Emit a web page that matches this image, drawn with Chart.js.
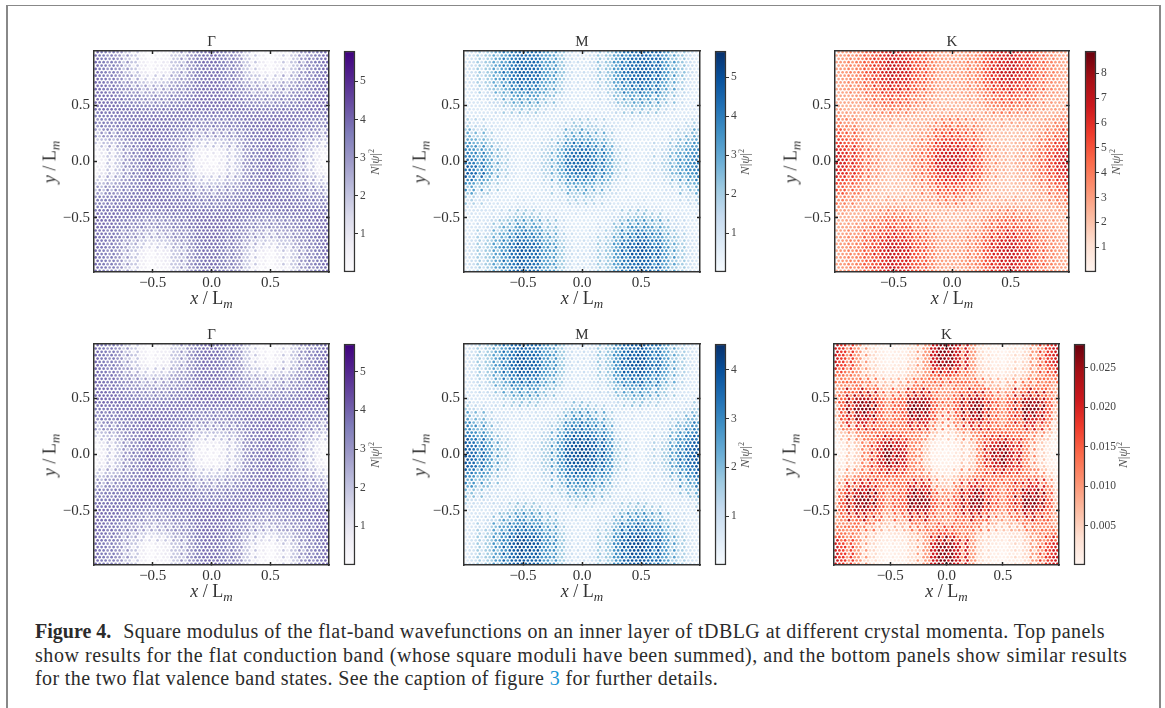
<!DOCTYPE html>
<html>
<head>
<meta charset="utf-8">
<script src="https://cdn.jsdelivr.net/npm/chart.js@4"></script>
<style>
  html, body { margin: 0; padding: 0; background: #fff; }
  body { width: 1165px; height: 708px; position: relative; overflow: hidden; font-family: "Liberation Serif", serif; color: #333; }
  canvas { position: absolute; filter: blur(0.4px); }
  .frame { position: absolute; background: #888; }
  .axis-title { position: absolute; font-size: 18px; white-space: nowrap; transform: translate(-50%, -50%); }
  .axis-title sub { font-size: 13px; vertical-align: -4px; line-height: 0; }
  .axis-title.vertical { transform: translate(-50%, -50%) rotate(-90deg); }
  .bar-title { position: absolute; font-size: 13px; color: #555; white-space: nowrap; transform: translate(-50%, -50%) rotate(-90deg); }
  .bar-title sup { font-size: 8px; line-height: 0; }
  .caption { position: absolute; left: 35px; font-size: 20px; line-height: 22px; white-space: nowrap; color: #2b2b2b; letter-spacing: 0.55px; }
  .caption b { margin-right: 12px; letter-spacing: 0; }
  .caption span { color: #1b96d4; }
</style>
</head>
<body>
<div class="frame" style="left:6px;top:5px;width:1155px;height:1px"></div>
<div class="frame" style="left:6px;top:5px;width:2px;height:703px"></div>
<div class="frame" style="left:1159px;top:5px;width:2px;height:703px"></div>

<div class="caption" style="top:620px;letter-spacing:0.43px"><b>Figure 4.</b>Square modulus of the flat-band wavefunctions on an inner layer of tDBLG at different crystal momenta. Top panels</div>
<div class="caption" style="top:644px">show results for the flat conduction band (whose square moduli have been summed), and the bottom panels show similar results</div>
<div class="caption" style="top:667px;letter-spacing:0.38px">for the two flat valence band states. See the caption of figure <span>3</span> for further details.</div>

<script>
// lattice sites, in units of L_m (same sites in all panels)
const siteRows = [-0.975,-0.945,-0.915,-0.885,-0.855,-0.825,-0.795,-0.765,-0.735,-0.705,-0.675,-0.645,-0.615,-0.585,-0.555,-0.525,-0.495,-0.465,-0.435,-0.405,-0.375,-0.345,-0.315,-0.285,-0.255,-0.225,-0.195,-0.165,-0.135,-0.105,-0.075,-0.045,-0.015,0.015,0.045,0.075,0.105,0.135,0.165,0.195,0.225,0.255,0.285,0.315,0.345,0.375,0.405,0.435,0.465,0.495,0.525,0.555,0.585,0.615,0.645,0.675,0.705,0.735,0.765,0.795,0.825,0.855,0.885,0.915,0.945,0.975];
const siteColsEven = [-0.986,-0.952,-0.918,-0.884,-0.850,-0.816,-0.782,-0.748,-0.714,-0.680,-0.646,-0.612,-0.578,-0.544,-0.510,-0.476,-0.442,-0.408,-0.374,-0.340,-0.306,-0.272,-0.238,-0.204,-0.170,-0.136,-0.102,-0.068,-0.034,0,0.034,0.068,0.102,0.136,0.170,0.204,0.238,0.272,0.306,0.340,0.374,0.408,0.442,0.476,0.510,0.544,0.578,0.612,0.646,0.680,0.714,0.748,0.782,0.816,0.850,0.884,0.918,0.952,0.986];
const siteColsOdd = [-0.969,-0.935,-0.901,-0.867,-0.833,-0.799,-0.765,-0.731,-0.697,-0.663,-0.629,-0.595,-0.561,-0.527,-0.493,-0.459,-0.425,-0.391,-0.357,-0.323,-0.289,-0.255,-0.221,-0.187,-0.153,-0.119,-0.085,-0.051,-0.017,0.017,0.051,0.085,0.119,0.153,0.187,0.221,0.255,0.289,0.323,0.357,0.391,0.425,0.459,0.493,0.527,0.561,0.595,0.629,0.663,0.697,0.731,0.765,0.799,0.833,0.867,0.901,0.935,0.969];

// N|psi|^2. Rows y = 0.9 ... -0.9, columns x = -1 ... 1, both in steps of 0.1
const gammaValues = [
  [3.9,3.6,3,1.9,.7,.2,.7,1.9,3,3.6,3.9,3.6,3,1.9,.7,.2,.7,1.9,3,3.6,3.9],
  [3.9,3.6,3,2,.9,.4,.9,2,3,3.6,3.9,3.6,3,2,.9,.4,.9,2,3,3.6,3.9],
  [3.9,3.7,3.2,2.6,1.9,1.5,1.9,2.6,3.2,3.7,3.9,3.7,3.2,2.6,1.9,1.5,1.9,2.6,3.2,3.7,3.9],
  [3.9,3.8,3.5,3.2,2.8,2.6,2.8,3.2,3.5,3.8,3.9,3.8,3.5,3.2,2.8,2.6,2.8,3.2,3.5,3.8,3.9],
  [3.9,3.9,3.8,3.6,3.4,3.3,3.4,3.6,3.8,3.9,3.9,3.9,3.8,3.6,3.4,3.3,3.4,3.6,3.8,3.9,3.9],
  [3.6,3.6,3.7,3.8,3.8,3.7,3.8,3.8,3.7,3.6,3.6,3.6,3.7,3.8,3.8,3.7,3.8,3.8,3.7,3.6,3.6],
  [3,3.1,3.4,3.6,3.8,3.9,3.8,3.6,3.4,3.1,3,3.1,3.4,3.6,3.8,3.9,3.8,3.6,3.4,3.1,3],
  [1.9,2.1,2.7,3.3,3.7,3.9,3.7,3.3,2.7,2.1,1.9,2.1,2.7,3.3,3.7,3.9,3.7,3.3,2.7,2.1,1.9],
  [.7,1.1,2,3,3.6,3.9,3.6,3,2,1.1,.7,1.1,2,3,3.6,3.9,3.6,3,2,1.1,.7],
  [.2,.7,1.9,3,3.6,3.9,3.6,3,1.9,.7,.2,.7,1.9,3,3.6,3.9,3.6,3,1.9,.7,.2],
  [.7,1.1,2,3,3.6,3.9,3.6,3,2,1.1,.7,1.1,2,3,3.6,3.9,3.6,3,2,1.1,.7],
  [1.9,2.1,2.7,3.3,3.7,3.9,3.7,3.3,2.7,2.1,1.9,2.1,2.7,3.3,3.7,3.9,3.7,3.3,2.7,2.1,1.9],
  [3,3.1,3.4,3.6,3.8,3.9,3.8,3.6,3.4,3.1,3,3.1,3.4,3.6,3.8,3.9,3.8,3.6,3.4,3.1,3],
  [3.6,3.6,3.7,3.8,3.8,3.7,3.8,3.8,3.7,3.6,3.6,3.6,3.7,3.8,3.8,3.7,3.8,3.8,3.7,3.6,3.6],
  [3.9,3.9,3.8,3.6,3.4,3.3,3.4,3.6,3.8,3.9,3.9,3.9,3.8,3.6,3.4,3.3,3.4,3.6,3.8,3.9,3.9],
  [3.9,3.8,3.5,3.2,2.8,2.6,2.8,3.2,3.5,3.8,3.9,3.8,3.5,3.2,2.8,2.6,2.8,3.2,3.5,3.8,3.9],
  [3.9,3.7,3.2,2.6,1.9,1.5,1.9,2.6,3.2,3.7,3.9,3.7,3.2,2.6,1.9,1.5,1.9,2.6,3.2,3.7,3.9],
  [3.9,3.6,3,2,.9,.4,.9,2,3,3.6,3.9,3.6,3,2,.9,.4,.9,2,3,3.6,3.9],
  [3.9,3.6,3,1.9,.7,.2,.7,1.9,3,3.6,3.9,3.6,3,1.9,.7,.2,.7,1.9,3,3.6,3.9]
];
const mTopValues = [
  [.8,1.2,2,3,4,4.4,4.2,3.2,2.2,1.3,.8,1.3,2.2,3.2,4.1,4.5,4.4,3.3,2.2,1.3,.8],
  [.8,1.2,2.1,3.2,4.3,4.8,4.5,3.4,2.3,1.3,.8,1.3,2.3,3.4,4.4,4.8,4.6,3.5,2.3,1.3,.8],
  [.8,1.1,1.9,2.9,3.9,4.4,4.1,3.1,2,1.2,.8,1.2,2,3.1,4,4.4,4.2,3.1,2,1.1,.8],
  [.7,.9,1.4,2.2,3,3.4,3.2,2.4,1.5,1,.7,1,1.5,2.4,3.1,3.5,3.3,2.4,1.5,.9,.7],
  [.7,.8,.9,1.4,2,2.3,2.1,1.5,1,.8,.7,.8,1,1.5,2.1,2.4,2.2,1.5,1,.8,.7],
  [1,.9,.8,.9,1.1,1.3,1.2,.9,.9,1,1.2,1,.9,.9,1.2,1.3,1.2,.9,.8,.9,1.1],
  [1.9,1.6,1.1,.8,.7,.8,.7,.9,1.3,1.8,2.1,1.8,1.3,.9,.7,.8,.7,.8,1.1,1.6,2],
  [3,2.7,1.9,1.1,.8,.7,.8,1.2,2,2.9,3.2,2.9,2,1.2,.8,.7,.8,1.1,1.8,2.6,3],
  [3.8,3.5,2.6,1.6,.9,.7,.9,1.6,2.8,3.8,4.3,3.8,2.8,1.6,.9,.7,.9,1.5,2.4,3.3,3.7],
  [4.2,4,3,1.9,1,.7,1,1.9,3,4.2,4.8,4.2,3,1.9,1,.7,1,1.8,2.8,3.7,4],
  [4.8,4.4,3,1.8,1,.7,1,1.7,2.9,3.9,4.4,3.9,2.8,1.7,1,.7,1,1.6,2.6,3.5,3.9],
  [3.7,3.2,2.1,1.2,.8,.7,.8,1.2,2,2.9,3.2,2.9,2,1.2,.8,.7,.8,1.1,1.8,2.5,2.9],
  [2.2,1.8,1.1,.8,.7,.8,.7,.9,1.3,1.8,2,1.8,1.2,.9,.7,.8,.7,.8,1,1.5,1.8],
  [1.1,1,.8,.8,1,1.2,1,.9,.9,1,1.1,1,.9,.8,1,1.2,1,.8,.8,.9,1],
  [.7,.8,1,1.4,1.9,2.3,2,1.4,1,.8,.7,.8,1,1.4,2,2.4,2.1,1.4,1,.8,.7],
  [.7,.9,1.4,2.2,3,3.5,3.1,2.3,1.4,.9,.7,.9,1.4,2.3,3.1,3.6,3.2,2.3,1.4,.9,.7],
  [.8,1.1,1.9,2.9,3.9,4.4,4,3,1.9,1.2,.8,1.2,1.9,3,4,4.5,4.1,3,1.9,1.1,.8],
  [.8,1.2,2.1,3.3,4.4,4.9,4.5,3.4,2.2,1.3,.8,1.3,2.2,3.4,4.5,5,4.6,3.4,2.1,1.2,.8],
  [.8,1.2,2,3.1,4.1,4.6,4.2,3.2,2.1,1.3,.8,1.3,2.1,3.2,4.2,4.6,4.3,3.1,2,1.2,.8]
];
const kTopValues = [
  [2.8,3,3.8,4.9,6,6.6,6.1,5,3.9,3.1,2.8,3.1,3.9,5,6.1,6.6,6.1,4.9,3.8,3,2.8],
  [2.8,3.1,3.9,5.1,6.4,7,6.5,5.2,4,3.1,2.8,3.1,4,5.2,6.5,7,6.4,5.1,3.9,3.1,2.8],
  [2.7,3,3.7,4.8,5.9,6.5,6,4.9,3.8,3,2.7,3,3.8,4.9,6,6.5,5.9,4.8,3.7,3,2.7],
  [2.6,2.8,3.2,4,4.9,5.3,4.9,4,3.2,2.7,2.5,2.7,3.2,4,4.9,5.3,4.9,4,3.2,2.8,2.6],
  [2.7,2.5,2.6,3.2,3.9,4.2,3.9,3.2,2.6,2.3,2.1,2.3,2.6,3.2,3.9,4.2,3.9,3.2,2.6,2.5,2.7],
  [3.4,3,2.5,2.5,2.8,3,2.8,2.5,2.4,2.6,2.9,2.6,2.4,2.5,2.8,3,2.8,2.5,2.5,3,3.4],
  [4.3,3.9,3.1,2.5,2.1,2.1,2.1,2.5,3.1,3.9,4.4,3.9,3.1,2.5,2.1,2.1,2.1,2.5,3.1,3.9,4.3],
  [5.4,5,4,2.9,2.2,1.9,2.2,2.9,4.1,5.1,5.6,5.1,4.1,2.9,2.2,1.9,2.2,2.9,4,5,5.4],
  [6.3,5.9,4.7,3.3,2.4,2,2.4,3.4,4.8,6,6.5,6,4.8,3.4,2.4,2,2.4,3.3,4.7,5.9,6.3],
  [6.8,6.3,5,3.6,2.6,2.1,2.6,3.6,5.1,6.4,7,6.4,5.1,3.6,2.6,2.1,2.6,3.6,5,6.3,6.8],
  [6.3,5.9,4.7,3.3,2.4,2,2.4,3.4,4.8,6,6.5,6,4.8,3.4,2.4,2,2.4,3.3,4.7,5.9,6.3],
  [5.4,5,4,2.9,2.2,1.9,2.2,2.9,4.1,5.1,5.6,5.1,4.1,2.9,2.2,1.9,2.2,2.9,4,5,5.4],
  [4.3,3.9,3.1,2.5,2.1,2.1,2.1,2.5,3.1,3.9,4.4,3.9,3.1,2.5,2.1,2.1,2.1,2.5,3.1,3.9,4.3],
  [3.4,3,2.5,2.5,2.8,3,2.8,2.5,2.4,2.6,2.9,2.6,2.4,2.5,2.8,3,2.8,2.5,2.5,3,3.4],
  [2.7,2.5,2.6,3.2,3.9,4.2,3.9,3.2,2.6,2.3,2.1,2.3,2.6,3.2,3.9,4.2,3.9,3.2,2.6,2.5,2.7],
  [2.6,2.8,3.2,4,4.9,5.3,4.9,4,3.2,2.7,2.5,2.7,3.2,4,4.9,5.3,4.9,4,3.2,2.8,2.6],
  [2.7,3,3.7,4.8,5.9,6.5,6,4.9,3.8,3,2.7,3,3.8,4.9,6,6.5,5.9,4.8,3.7,3,2.7],
  [2.8,3.1,3.9,5.1,6.4,7,6.5,5.2,4,3.1,2.8,3.1,4,5.2,6.5,7,6.4,5.1,3.9,3.1,2.8],
  [2.8,3,3.8,4.9,6,6.6,6.1,5,3.9,3.1,2.8,3.1,3.9,5,6.1,6.6,6.1,4.9,3.8,3,2.8]
];
const mBottomValues = [
  [.6,.9,1.6,2.5,3.4,3.7,3.4,2.6,1.7,1,.6,1,1.8,2.7,3.5,3.8,3.3,2.4,1.5,.9,.6],
  [.6,.9,1.7,2.7,3.6,4,3.7,2.8,1.8,1,.6,1,1.8,2.9,3.8,4,3.5,2.6,1.6,.9,.6],
  [.6,.8,1.5,2.4,3.2,3.6,3.3,2.5,1.6,.9,.6,.9,1.6,2.6,3.4,3.6,3.1,2.3,1.4,.8,.6],
  [.6,.7,1.1,1.8,2.5,2.8,2.6,1.9,1.2,.8,.6,.8,1.2,2,2.6,2.8,2.4,1.7,1.1,.7,.6],
  [.9,.7,.7,1.1,1.6,1.9,1.7,1.2,.8,.8,1,.8,.8,1.2,1.7,1.9,1.5,1.1,.7,.7,.9],
  [1.6,1.2,.8,.7,.9,1,.9,.8,1,1.5,1.9,1.5,1,.8,.9,1,.8,.7,.8,1.2,1.6],
  [2.5,2.1,1.4,.8,.6,.6,.6,.9,1.6,2.4,2.8,2.4,1.6,.9,.6,.6,.6,.8,1.4,2.1,2.5],
  [3.2,2.9,2,1.1,.7,.5,.7,1.2,2.3,3.1,3.5,3.1,2.3,1.2,.7,.5,.7,1.1,2,2.9,3.2],
  [3.8,3.4,2.5,1.4,.8,.5,.8,1.5,2.7,3.6,4,3.6,2.7,1.5,.8,.5,.8,1.4,2.5,3.4,3.8],
  [3.9,3.6,2.7,1.6,.9,.5,.9,1.6,2.9,3.8,4.2,3.8,2.9,1.6,.9,.5,.9,1.6,2.7,3.6,3.9],
  [3.8,3.4,2.5,1.4,.8,.5,.8,1.5,2.7,3.5,3.9,3.5,2.7,1.5,.8,.5,.8,1.4,2.5,3.4,3.8],
  [3.1,2.8,1.9,1.1,.7,.5,.7,1.2,2.2,3,3.3,3,2.2,1.2,.7,.5,.7,1.1,1.9,2.8,3.1],
  [2.3,1.9,1.2,.8,.6,.6,.6,.9,1.5,2.1,2.5,2.1,1.5,.9,.6,.6,.6,.8,1.2,1.9,2.3],
  [1.4,1,.8,.7,.9,1,.9,.8,.9,1.3,1.6,1.3,.9,.8,.9,1,.8,.7,.8,1,1.4],
  [.8,.7,.7,1.1,1.6,1.9,1.7,1.2,.8,.7,.9,.7,.8,1.2,1.7,1.9,1.6,1,.7,.7,.8],
  [.6,.7,1.1,1.9,2.6,2.9,2.6,2,1.2,.8,.6,.8,1.2,2,2.7,2.9,2.6,1.8,1.1,.7,.6],
  [.6,.8,1.5,2.5,3.3,3.7,3.4,2.6,1.6,.9,.6,.9,1.6,2.7,3.5,3.7,3.3,2.4,1.4,.8,.6],
  [.6,.9,1.7,2.8,3.8,4.2,3.9,2.9,1.8,1,.6,1,1.8,3,4,4.2,3.8,2.7,1.6,.9,.6],
  [.6,.9,1.6,2.6,3.6,3.9,3.6,2.7,1.7,1,.6,1,1.7,2.8,3.7,3.9,3.5,2.5,1.5,.9,.6]
];
// this one in units of 0.001
const kBottomValues = [
  [21,18,10,4,1.5,.5,1.5,4,10,21,27,21,10,4,1.5,.5,1.5,4,10,18,21],
  [20,17,10,4.5,2,1,2,4.5,10,21,26,21,10,4.5,2,1,2,4.5,10,17,20],
  [14,13,10,6,3.5,2.5,3.5,6,10,14,17,14,10,6,3.5,2.5,3.5,6,10,13,14],
  [9,11,14,13,8,6,8,13,14,11,9,11,14,13,8,6,8,13,14,11,9],
  [9,15,23,23,15,10,15,23,23,15,10,15,23,23,15,10,15,23,23,15,9],
  [7,16,26,27,16,11,16,27,26,16,10,16,26,27,16,11,16,27,26,16,7],
  [5,12,20,21,14,10,14,21,20,12,6,12,20,21,14,10,14,21,20,12,5],
  [3,6,11,13,14,15,14,13,11,6,3,6,11,13,14,15,14,13,11,6,3],
  [1,2.5,6,12,19,23,19,12,6,2.5,1,2.5,6,12,19,23,19,12,6,2.5,1],
  [.5,1.5,5,12,22,27,22,12,5,1.5,.5,1.5,5,12,22,27,22,12,5,1.5,.5],
  [1,2.5,6,12,19,23,19,12,6,2.5,1,2.5,6,12,19,23,19,12,6,2.5,1],
  [3,6,11,13,14,15,14,13,11,6,3,6,11,13,14,15,14,13,11,6,3],
  [5,12,20,21,14,10,14,21,20,12,6,12,20,21,14,10,14,21,20,12,5],
  [7,16,26,27,16,11,16,27,26,16,10,16,26,27,16,11,16,27,26,16,7],
  [9,15,23,23,15,10,15,23,23,15,10,15,23,23,15,10,15,23,23,15,9],
  [9,11,14,13,8,6,8,13,14,11,9,11,14,13,8,6,8,13,14,11,9],
  [14,13,10,6,3.5,2.5,3.5,6,10,14,17,14,10,6,3.5,2.5,3.5,6,10,13,14],
  [20,17,10,4.5,2,1,2,4.5,10,21,26,21,10,4.5,2,1,2,4.5,10,17,20],
  [21,18,10,4,1.5,.5,1.5,4,10,21,27,21,10,4,1.5,.5,1.5,4,10,18,21]
];

const axisTicks = [-0.5, 0, 0.5];
const barTicksGamma = [1, 2, 3, 4, 5];
const barTicksMTop = [1, 2, 3, 4, 5];
const barTicksKTop = [1, 2, 3, 4, 5, 6, 7, 8];
const barTicksMBottom = [1, 2, 3, 4];
const barTicksKBottom = [0.005, 0.010, 0.015, 0.020, 0.025];

// matplotlib Purples / Blues / Reds
const purples = ["#fcfbfd","#efedf5","#dadaeb","#bcbddc","#9e9ac8","#807dba","#6a51a3","#54278f","#3f007d"];
const blues = ["#f7fbff","#deebf7","#c6dbef","#9ecae1","#6baed6","#4292c6","#2171b5","#08519c","#08306b"];
const reds = ["#fff5f0","#fee0d2","#fcbba1","#fc9272","#fb6a4a","#ef3b2c","#cb181d","#a50f15","#67000d"];

// sites near a cell edge pick one of the two neighbouring cells in this order, so edges don't look square
const ditherX = [-0.04, 0.02, -0.02, 0.04];
const ditherY = [0.03, -0.04, 0.04, -0.03];

const panels = [
  { title: "Γ", left: 94, top: 51, w: 235, h: 221, barLeft: 344, barW: 11, values: gammaValues, scale: 1, cmap: purples, min: 0, max: 5.8, barTicks: barTicksGamma, digits: 0, labelX: 375 },
  { title: "M", left: 464, top: 51, w: 236, h: 221, barLeft: 715, barW: 11, values: mTopValues, scale: 1, cmap: blues, min: 0, max: 5.68, barTicks: barTicksMTop, digits: 0, labelX: 745 },
  { title: "K", left: 835, top: 51, w: 234, h: 221, barLeft: 1085, barW: 11, values: kTopValues, scale: 1, cmap: reds, min: 0, max: 8.9, barTicks: barTicksKTop, digits: 0, labelX: 1116 },
  { title: "Γ", left: 94, top: 344, w: 235, h: 221, barLeft: 344, barW: 11, values: gammaValues, scale: 1, cmap: purples, min: 0, max: 5.72, barTicks: barTicksGamma, digits: 0, labelX: 375 },
  { title: "M", left: 464, top: 344, w: 236, h: 221, barLeft: 715, barW: 11, values: mBottomValues, scale: 1, cmap: blues, min: 0, max: 4.53, barTicks: barTicksMBottom, digits: 0, labelX: 745 },
  { title: "K", left: 834, top: 344, w: 225, h: 221, barLeft: 1074, barW: 11, values: kBottomValues, scale: 0.001, cmap: reds, min: 0, max: 0.028, barTicks: barTicksKBottom, digits: 3, labelX: 1123 }
];

const serif = "'Liberation Serif', serif";
const axisColor = "#333";
const Y_AXIS_W = 60, X_AXIS_H = 30, TITLE_H = 20, EDGE = 2;

function hexToRgb(hex) {
  return [1, 3, 5].map(i => parseInt(hex.slice(i, i + 2), 16));
}

function colorFor(cmap, t) {
  const pos = Math.min(Math.max(t, 0), 1) * (cmap.length - 1);
  const i = Math.min(Math.floor(pos), cmap.length - 2);
  const a = hexToRgb(cmap[i]), b = hexToRgb(cmap[i + 1]);
  const f = pos - i;
  return `rgb(${a.map((c, k) => Math.round(c + (b[k] - c) * f)).join(",")})`;
}

// value of the table cell a site falls in
function cellValue(table, x, y) {
  const row = Math.min(Math.max(Math.round((0.9 - y) / 0.1), 0), table.length - 1);
  const col = Math.min(Math.max(Math.round((x + 1) / 0.1), 0), table[0].length - 1);
  return table[row][col];
}

function addCanvas(left, top, width, height) {
  const canvas = document.createElement("canvas");
  canvas.width = width;
  canvas.height = height;
  canvas.style.cssText = `left:${left}px;top:${top}px;width:${width}px;height:${height}px`;
  document.body.appendChild(canvas);
  return canvas;
}

function addText(cls, html, x, y) {
  const el = document.createElement("div");
  el.className = cls;
  el.innerHTML = html;
  el.style.left = x + "px";
  el.style.top = y + "px";
  document.body.appendChild(el);
}

// fixed box for an axis, so the plot area lands where it should
function fitAxis(s, size) {
  if (s.isHorizontal()) s.height = size; else s.width = size;
  s.paddingLeft = s.paddingRight = s.paddingTop = s.paddingBottom = 0;
}

function frameAxis(position, extra) {
  const horizontal = position === "top" || position === "bottom";
  return Object.assign({
    type: "linear",
    position,
    min: horizontal ? -1 : -0.985,
    max: horizontal ? 1 : 0.985,
    afterBuildTicks: s => { s.ticks = axisTicks.map(value => ({ value })); },
    border: { color: axisColor, width: 1.5, z: 1 },
    grid: { drawOnChartArea: false, tickLength: -3, tickColor: "#222", tickWidth: 1.5, z: 1 },
    ticks: { display: false }
  }, extra);
}

function drawPanel(p) {
  const pointsData = [], pointColors = [];
  siteRows.forEach((y, r) => {
    (r % 2 ? siteColsOdd : siteColsEven).forEach((x, c) => {
      pointsData.push({ x, y });
      const v = cellValue(p.values, x + ditherX[(c + 2 * r) % 4], y + ditherY[(r + 3 * c) % 4]) * p.scale;
      pointColors.push(colorFor(p.cmap, (v - p.min) / (p.max - p.min)));
    });
  });

  const tickFont = { family: serif, size: 15 };
  const fmt = v => v.toFixed(1).replace("-", "\u2212");
  new Chart(addCanvas(p.left - Y_AXIS_W, p.top - TITLE_H, Y_AXIS_W + p.w + EDGE + 2, TITLE_H + p.h + X_AXIS_H), {
    type: "scatter",
    data: { datasets: [{ data: pointsData, pointBackgroundColor: pointColors, pointRadius: 1.35, pointBorderWidth: 0 }] },
    options: {
      responsive: false,
      animation: false,
      events: [],
      layout: { padding: 0 },
      plugins: { legend: { display: false }, tooltip: { enabled: false } },
      scales: {
        x: frameAxis("bottom", {
          afterFit: s => fitAxis(s, X_AXIS_H),
          ticks: { display: true, font: tickFont, color: axisColor, padding: 5, maxRotation: 0, autoSkip: false, callback: fmt }
        }),
        y: frameAxis("left", {
          afterFit: s => fitAxis(s, Y_AXIS_W),
          ticks: { display: true, font: tickFont, color: axisColor, padding: 7, autoSkip: false, callback: fmt }
        }),
        x2: frameAxis("top", {
          afterFit: s => fitAxis(s, TITLE_H),
          title: { display: true, text: p.title, font: { family: serif, size: 15 }, color: axisColor, padding: { top: 2, bottom: 0 } }
        }),
        y2: frameAxis("right", { afterFit: s => fitAxis(s, EDGE) })
      }
    }
  });

  new Chart(addCanvas(p.barLeft - EDGE, p.top - EDGE, p.barW + EDGE + 36, p.h + 2 * EDGE), {
    type: "bar",
    data: {
      labels: [""],
      datasets: [{
        data: [[p.min, p.max]],
        barPercentage: 1,
        categoryPercentage: 1,
        borderWidth: 1.5,
        borderColor: axisColor,
        borderSkipped: false,
        clip: 3,
        backgroundColor: ctx => {
          const area = ctx.chart.chartArea;
          if (!area) return p.cmap[4];
          const g = ctx.chart.ctx.createLinearGradient(0, area.bottom, 0, area.top);
          p.cmap.forEach((c, i) => g.addColorStop(i / (p.cmap.length - 1), c));
          return g;
        }
      }]
    },
    options: {
      responsive: false,
      animation: false,
      events: [],
      layout: { padding: { left: EDGE, top: EDGE, bottom: EDGE } },
      plugins: { legend: { display: false }, tooltip: { enabled: false } },
      scales: {
        x: { display: false },
        y: {
          position: "right",
          min: p.min,
          max: p.max,
          afterBuildTicks: s => { s.ticks = p.barTicks.map(value => ({ value })); },
          afterFit: s => fitAxis(s, 36),
          border: { display: false },
          grid: { drawOnChartArea: false, tickLength: 3, tickColor: axisColor, tickWidth: 1 },
          ticks: { font: { family: serif, size: 11.5 }, color: "#444", padding: 2, autoSkip: false, callback: v => v.toFixed(p.digits) }
        }
      }
    }
  });

  const cx = p.left + p.w / 2, cy = p.top + p.h / 2;
  addText("axis-title", "<i>x</i> / L<sub><i>m</i></sub>", cx, p.top + p.h + 26);
  addText("axis-title vertical", "<i>y</i> / L<sub><i>m</i></sub>", p.left - 44, cy);
  addText("bar-title", "<i>N</i>|<i>ψ</i>|<sup>2</sup>", p.labelX, cy);
}

panels.forEach(drawPanel);
</script>
</body>
</html>
